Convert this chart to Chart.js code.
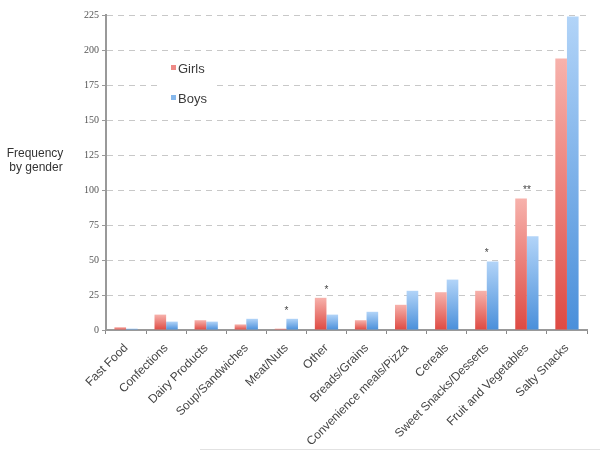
<!DOCTYPE html>
<html>
<head>
<meta charset="utf-8">
<script src="https://cdn.jsdelivr.net/npm/chart.js@4/dist/chart.umd.min.js"></script>
<style>
  html, body { margin: 0; padding: 0; background: #ffffff; }
  #wrap { position: relative; width: 600px; height: 451px; }
  #rule { position: absolute; left: 200px; top: 449px; width: 400px; height: 0; border-top: 1px solid #e2e2e2; }
</style>
</head>
<body>
<div id="wrap">
  <canvas id="c" width="600" height="451"></canvas>
  <div id="rule"></div>
</div>
<script>
const categories = ["Fast Food", "Confections", "Dairy Products", "Soup/Sandwiches", "Meat/Nuts", "Other",
  "Breads/Grains", "Convenience meals/Pizza", "Cereals", "Sweet Snacks/Desserts", "Fruit and Vegetables", "Salty Snacks"];
const girls = [2, 11, 7, 4, 1, 23, 7, 18, 27, 28, 94, 194];
const boys  = [1, 6, 6, 8, 8, 11, 13, 28, 36, 49, 67, 224];
const significance = ["", "", "", "", "*", "*", "", "", "", "*", "**", ""];
const yTicks = [0, 25, 50, 75, 100, 125, 150, 175, 200, 225];
const yTitle = ["Frequency", "by gender"];

function gradFill(top, bottom, fallback) {
  return function (ctx) {
    const chart = ctx.chart;
    if (!chart.chartArea || ctx.type !== 'data') return fallback;
    const ys = chart.scales.y;
    const v = ctx.raw;
    const yTop = ys.getPixelForValue(v);
    const yBase = ys.getPixelForValue(0);
    if (!isFinite(yTop) || Math.abs(yBase - yTop) < 1) return fallback;
    const g = chart.ctx.createLinearGradient(0, yTop, 0, yBase);
    g.addColorStop(0, top);
    g.addColorStop(1, bottom);
    return g;
  };
}

const overlay = {
  id: 'overlay',
  afterDraw(chart) {
    const ctx = chart.ctx;
    const xs = chart.scales.x, ys = chart.scales.y;
    ctx.save();
    // y title
    ctx.fillStyle = '#333333';
    ctx.font = '12px "Liberation Sans", Arial, sans-serif';
    ctx.textAlign = 'center';
    ctx.textBaseline = 'middle';
    ctx.fillText(yTitle[0], 35, 154);
    ctx.fillText(yTitle[1], 36, 168);
    // legend box (white background hides grid lines)
    ctx.fillStyle = '#ffffff';
    ctx.fillRect(162, 56, 54, 50);
    const items = chart.data.datasets.map(d => ({ label: d.label, color: d.legendColor }));
    ctx.font = '13px "Liberation Sans", Arial, sans-serif';
    ctx.textAlign = 'left';
    items.forEach((it, i) => {
      const yy = 68 + i * 30;
      ctx.fillStyle = it.color;
      ctx.fillRect(171, yy - 3, 5, 5);
      ctx.fillStyle = '#3a3a3a';
      ctx.fillText(it.label, 178, yy + 1);
    });
    // significance marks
    ctx.font = '10px "Liberation Sans", Arial, sans-serif';
    ctx.textAlign = 'center';
    ctx.textBaseline = 'middle';
    ctx.fillStyle = '#444444';
    significance.forEach((s, i) => {
      if (!s) return;
      const x = xs.getPixelForValue(i);
      const y = ys.getPixelForValue(Math.max(girls[i], boys[i])) - 8;
      ctx.fillText(s, x, y);
    });
    ctx.restore();
  }
};

new Chart(document.getElementById('c'), {
  type: 'bar',
  data: {
    labels: categories,
    datasets: [
      { label: 'Girls', data: girls, legendColor: '#ee8a86',
        backgroundColor: gradFill('#f7b2ac', '#de4a43', '#e8625c'),
        categoryPercentage: 0.58, barPercentage: 1.0 },
      { label: 'Boys', data: boys, legendColor: '#86b8ec',
        backgroundColor: gradFill('#b2d4f8', '#4a8fda', '#6aa8e8'),
        categoryPercentage: 0.58, barPercentage: 1.0 }
    ]
  },
  options: {
    responsive: false,
    animation: false,
    events: [],
    layout: { padding: { top: 15, right: 13, bottom: 0, left: 0 } },
    plugins: { legend: { display: false }, tooltip: { enabled: false } },
    scales: {
      x: {
        grid: { display: true, drawOnChartArea: false, drawTicks: true, tickLength: 4, tickColor: '#888888', offset: true },
        border: { display: true, color: '#999999', width: 2 },
        ticks: {
          autoSkip: false, maxRotation: 45, minRotation: 45, padding: 7,
          color: '#444444', font: { family: '"Liberation Sans", Arial, sans-serif', size: 12 }
        },
        afterFit(scale) { scale.height = 451 - 330; }
      },
      y: {
        min: 0, max: 225,
        afterBuildTicks(scale) { scale.ticks = yTicks.map(v => ({ value: v })); },
        grid: { color: '#c8c8c8', lineWidth: 1, tickLength: 4, tickColor: '#999999', drawTicks: true },
        border: { display: true, color: '#999999', width: 2, dash: [6, 5] },
        ticks: {
          padding: 3, color: '#555555',
          font: { family: '"Liberation Serif", "Times New Roman", serif', size: 10 }
        },
        afterFit(scale) { scale.width = 106; }
      }
    }
  },
  plugins: [overlay]
});
</script>
</body>
</html>
